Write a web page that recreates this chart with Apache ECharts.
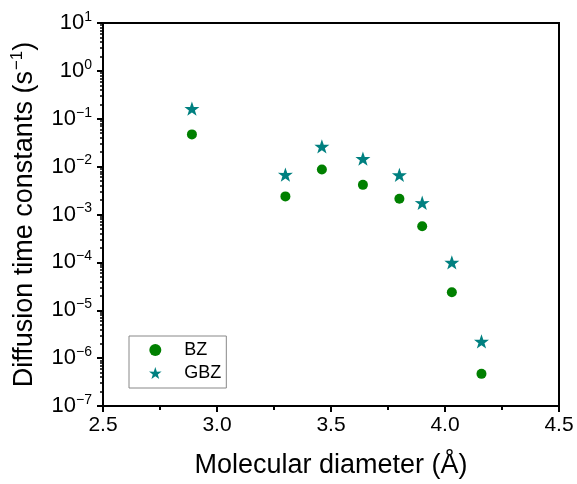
<!DOCTYPE html>
<html>
<head>
<meta charset="utf-8">
<script src="https://cdn.jsdelivr.net/npm/echarts@6/dist/echarts.min.js"></script>
<style>
  html, body { margin: 0; padding: 0; background: #fff; }
  #chart { width: 577px; height: 484px; }
</style>
</head>
<body>
<div id="chart"></div>
<script>
// molecular diameters (Å)
var diameters = [2.89, 3.30, 3.46, 3.64, 3.80, 3.90, 4.03, 4.16];
// diffusion time constants (1/s)
var bzValues  = [0.0471, 0.00239, 0.00869, 0.00416, 0.00213, 0.000569, 0.0000237, 0.000000469];
var gbzValues = [0.163, 0.00684, 0.0265, 0.0147, 0.00671, 0.00176, 0.0000996, 0.00000224];

var yMin = 1e-7, yMax = 10;
var xMin = 2.5, xMax = 4.5;

// minor ticks 2..9 in each decade, as exponents (for a hidden linear axis in log space)
var minorExp = [];
for (var e = -7; e < 1; e++) {
    for (var m = 2; m <= 9; m++) minorExp.push(e + Math.log10(m));
}

var starPath = 'path://M50,0 L61.8,35.1 L97.6,34.5 L69.1,56.7 L79.4,90.5 L50,70 L20.6,90.5 L30.9,56.7 L2.4,34.5 L38.2,35.1 Z';
var FONT = 'Liberation Sans, Arial, sans-serif';

function toPairs(xs, ys) {
    return xs.map(function (x, i) { return [x, ys[i]]; });
}

var myChart = echarts.init(document.getElementById('chart'), null, {renderer: 'canvas'});
var option = {
    backgroundColor: '#fff',
    animation: false,
    textStyle: {fontFamily: FONT, color: '#000'},
    grid: {
        left: 103, right: 18, top: 23, bottom: 76,
        show: true, borderColor: '#000', borderWidth: 2
    },
    legend: {
        orient: 'vertical',
        left: 129, top: 336,
        borderColor: '#888', borderWidth: 1,
        padding: [5, 5, 6, 20],
        itemGap: 5,
        itemWidth: 14, itemHeight: 12,
        textStyle: {fontSize: 18, lineHeight: 18, color: '#000', fontFamily: FONT, padding: [0, 0, 0, 17]},
        data: [
            {name: 'BZ', icon: 'circle', itemStyle: {color: '#008000'}},
            {name: 'GBZ', icon: starPath, itemStyle: {color: '#008080'}}
        ]
    },
    xAxis: {
        type: 'value',
        min: xMin, max: xMax, interval: 0.5,
        name: 'Molecular diameter (Å)',
        nameLocation: 'middle', nameGap: 46,
        nameTextStyle: {fontSize: 27, color: '#000', fontFamily: FONT},
        splitLine: {show: false},
        axisLine: {onZero: false, lineStyle: {color: '#000', width: 2}},
        axisTick: {length: 6, lineStyle: {color: '#000', width: 2}},
        minorTick: {show: true, splitNumber: 2, length: 4, lineStyle: {color: '#000', width: 2}},
        axisLabel: {
            fontSize: 21, color: '#000', margin: 9, fontFamily: FONT,
            formatter: function (v) { return v.toFixed(1); }
        }
    },
    yAxis: [{
        type: 'log', logBase: 10,
        min: yMin, max: yMax,
        name: '{a|Diffusion time constants (s}{s|−1}{a|)}',
        nameLocation: 'middle', nameGap: 62,
        nameTextStyle: {
            rich: {
                a: {fontSize: 27, color: '#000', fontFamily: FONT, lineHeight: 32},
                s: {fontSize: 17, color: '#000', fontFamily: FONT, verticalAlign: 'top', lineHeight: 32, padding: [0, 0, 0, 1]}
            }
        },
        splitLine: {show: false},
        axisLine: {show: true, onZero: false, lineStyle: {color: '#000', width: 2}},
        axisTick: {length: 6, lineStyle: {color: '#000', width: 2}},
        axisLabel: {
            margin: 11,
            formatter: function (v) {
                var p = Math.round(Math.log10(v));
                return '{b|10}{s|' + String(p).replace('-', '−') + '}';
            },
            rich: {
                b: {fontSize: 22, color: '#000', fontFamily: FONT, lineHeight: 26},
                s: {fontSize: 14, color: '#000', fontFamily: FONT, verticalAlign: 'top', lineHeight: 26}
            }
        }
    }, {
        // hidden linear axis in exponent units, only to draw the 2..9 minor ticks
        type: 'value',
        min: -7, max: 1,
        position: 'left',
        splitLine: {show: false},
        axisLine: {show: false, onZero: false},
        axisLabel: {show: false},
        axisTick: {show: true, length: 3, customValues: minorExp, lineStyle: {color: '#000', width: 1.5}}
    }],
    series: [{
        name: 'BZ',
        type: 'scatter',
        symbol: 'circle',
        symbolSize: 10,
        itemStyle: {color: '#008000', opacity: 1},
        data: toPairs(diameters, bzValues)
    }, {
        name: 'GBZ',
        type: 'scatter',
        symbol: starPath,
        symbolKeepAspect: true,
        symbolSize: 15,
        itemStyle: {color: '#008080', opacity: 1},
        data: toPairs(diameters, gbzValues)
    }]
};
myChart.setOption(option);
</script>
</body>
</html>
